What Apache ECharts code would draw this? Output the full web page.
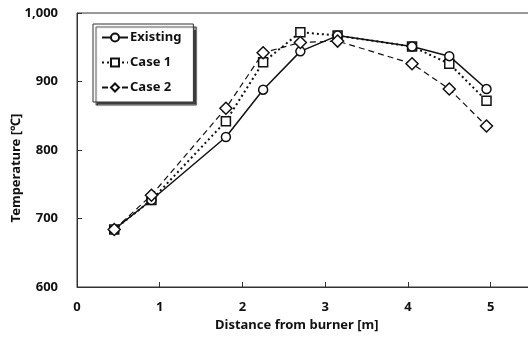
<!DOCTYPE html>
<html><head><meta charset="utf-8">
<script src="https://cdn.jsdelivr.net/npm/echarts@6/dist/echarts.min.js"></script>
<style>html,body{margin:0;padding:0;background:#fff}#c{width:528px;height:339px}</style>
</head><body><div id="c"></div>
<script>
const distances = [0.45, 0.9, 1.8, 2.25, 2.7, 3.15, 4.05, 4.5, 4.95];
const existing = [684, 727, 819, 888, 944, 967, 951, 937, 889];
const case1 = [684, 727, 842, 928, 972, 967, 951, 926, 872];
const case2 = [684, 734, 861, 942, 957, 959, 926, 889, 835];
const seriesNames = ['Existing', 'Case 1', 'Case 2'];
const xTicks = [0, 1, 2, 3, 4, 5];
const yTicks = [600, 700, 800, 900, 1000];

const FONT = '"Noto Sans", "Liberation Sans", sans-serif';
const pair = arr => distances.map((d, i) => [d, arr[i]]);
const chart = echarts.init(document.getElementById('c'));
chart.setOption({
  animation: false,
  backgroundColor: '#fff',
  grid: { left: 77, top: 13, right: -4, bottom: 52, show: true, borderColor: '#333', borderWidth: 1,
    containLabel: false, outerBoundsMode: 'none' },
  xAxis: {
    type: 'value', min: 0, max: 5.5, interval: 1,
    axisLine: { show: true, lineStyle: { color: '#333' } },
    axisTick: { show: true, inside: true, length: 5, lineStyle: { color: '#333' } },
    splitLine: { show: false },
    axisLabel: { color: '#111', fontFamily: FONT, fontWeight: 'bold', fontSize: 13, margin: 14,
      formatter: v => xTicks.includes(v) ? String(v) : '' }
  },
  yAxis: {
    type: 'value', min: 600, max: 1000, interval: 100,
    axisLine: { show: true, lineStyle: { color: '#333' } },
    axisTick: { show: true, inside: true, length: 5, lineStyle: { color: '#333' } },
    splitLine: { show: false },
    axisLabel: { color: '#111', fontFamily: FONT, fontWeight: 'bold', fontSize: 13, margin: 19,
      formatter: v => yTicks.includes(v) ? v.toLocaleString('en-US') : '' }
  },
  legend: {
    orient: 'vertical', left: 93, top: 24, width: 103,
    padding: [7, 12, 8, 8], itemGap: 12, itemWidth: 26, itemHeight: 10,
    backgroundColor: '#fff', borderColor: '#333', borderWidth: 1,
    shadowColor: 'rgba(0,0,0,0.75)', shadowOffsetX: 3, shadowOffsetY: 3, shadowBlur: 1,
    textStyle: { color: '#111', fontFamily: FONT, fontWeight: 'bold', fontSize: 13, padding: [0, 0, 0, -3] },
    data: seriesNames
  },
  graphic: [
    { type: 'text', left: 215, top: 319, style: { text: 'Distance from burner [m]', font: 'bold 13px ' + FONT, fill: '#111' } },
    { type: 'text', x: 10, y: 168, rotation: Math.PI / 2, style: { text: 'Temperature [℃]', font: 'bold 13px ' + FONT, fill: '#111', align: 'center', verticalAlign: 'top' } }
  ],
  series: [
    { name: seriesNames[0], type: 'line', data: pair(existing), symbol: 'circle', symbolSize: 9,
      lineStyle: { color: '#111', width: 1.5, type: 'solid' },
      itemStyle: { color: '#fff', borderColor: '#111', borderWidth: 1.5 }, z: 3 },
    { name: seriesNames[1], type: 'line', data: pair(case1), symbol: 'rect', symbolSize: 9,
      lineStyle: { color: '#111', width: 2, type: [2, 3] },
      itemStyle: { color: '#fff', borderColor: '#111', borderWidth: 1.5 }, z: 2 },
    { name: seriesNames[2], type: 'line', data: pair(case2), symbol: 'diamond', symbolSize: 12,
      lineStyle: { color: '#111', width: 1.2, type: [6, 4] },
      itemStyle: { color: '#fff', borderColor: '#111', borderWidth: 1.5 }, z: 4 }
  ]
});
</script></body></html>
